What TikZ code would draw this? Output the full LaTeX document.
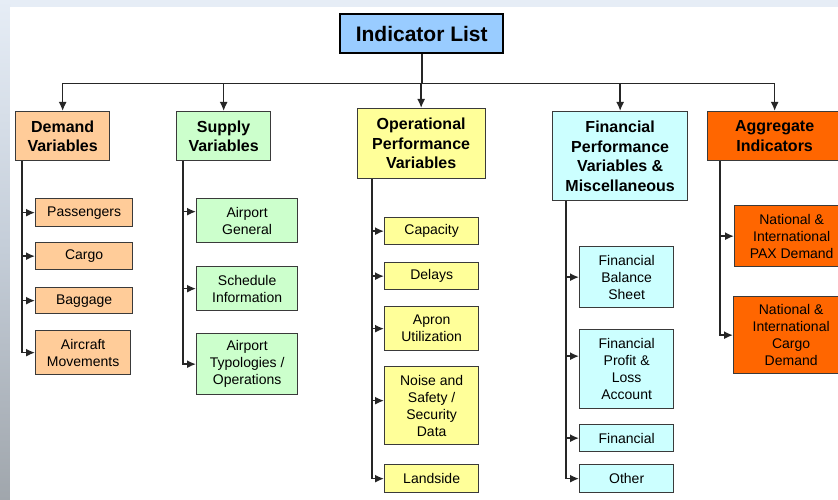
\documentclass[tikz,border=0pt]{standalone}
\usepackage{fontspec}
\setmainfont{Liberation Sans}
\usetikzlibrary{arrows.meta,positioning,calc}
\definecolor{cpeach}{HTML}{FFCC99}
\definecolor{cgreen}{HTML}{CCFFCC}
\definecolor{cyell}{HTML}{FFFF99}
\definecolor{ccyan}{HTML}{CCFFFF}
\definecolor{corange}{HTML}{FF6600}
\definecolor{cblue}{HTML}{99CCFF}
\definecolor{cborder}{HTML}{3A3A3A}
\definecolor{bgtop}{HTML}{E6EDF6}
\definecolor{bgmid}{HTML}{C4CDD8}
\definecolor{bgbot}{HTML}{A0A6AC}
\begin{document}
\begin{tikzpicture}[x=1pt,y=-1pt,
  box/.style={draw=cborder, line width=1.3pt, inner sep=0pt, align=center, anchor=north west},
  head/.style={box, font=\fontsize{16}{19.5}\selectfont\bfseries},
  sub/.style={box, font=\fontsize{14}{17}\selectfont},
  conn/.style={line width=1.6pt, draw=black!85},
  arr/.style={conn, -{Latex[length=9pt,width=8pt]}},
]
\useasboundingbox (0,0) rectangle (838,500);
% background
\fill[bgtop] (0,0) rectangle (838,7);
\shade[top color=bgtop, bottom color=bgbot, middle color=bgmid] (0,0) rectangle (10,500);
\fill[white] (10,7) rectangle (838,500);

% top
\node[box, draw=black, line width=2.4pt, fill=cblue, minimum width=163, minimum height=39,
  font=\fontsize{21}{24}\selectfont\bfseries] (top) at (339,13) {Indicator List};

% headers
\node[head, fill=cpeach, minimum width=94, minimum height=49] (dem) at (15,111) {Demand\\Variables};
\node[head, fill=cgreen, minimum width=94, minimum height=49] (sup) at (176,111) {Supply\\Variables};
\node[head, fill=cyell, minimum width=128, minimum height=70] (ope) at (356.5,108) {Operational\\Performance\\Variables};
\node[head, fill=ccyan, minimum width=135, minimum height=89] (fin) at (552,111) {Financial\\Performance\\Variables \&\\Miscellaneous};
\node[head, fill=corange, minimum width=134, minimum height=49] (agg) at (707,111) {Aggregate\\Indicators};

% bus
\coordinate (bus) at ([yshift=-29pt]top.south);
\draw[conn] (top.south) -- (bus);
\draw[arr] (bus) -| (dem.north);
\draw[arr] (bus) -| (sup.north);
\draw[arr] (bus) -- (ope.north |- bus) -- (ope.north);
\draw[arr] (bus) -| (fin.north);
\draw[arr] (bus) -| (agg.north);

% demand subs
\node[sub, fill=cpeach, minimum width=97, minimum height=28] (p1) at (35,198) {Passengers};
\node[sub, fill=cpeach, minimum width=97, minimum height=27] (p2) at (35,242) {Cargo};
\node[sub, fill=cpeach, minimum width=97, minimum height=26] (p3) at (35,287) {Baggage};
\node[sub, fill=cpeach, minimum width=95, minimum height=44] (p4) at (35,330) {Aircraft\\Movements};
\coordinate (dsp) at ([xshift=7pt]dem.south west);
\draw[arr] (dsp) |- (p4.west);
\foreach \n in {p1,p2,p3} \draw[arr] (dsp |- \n.west) -- (\n.west);

% supply subs
\node[sub, fill=cgreen, minimum width=101, minimum height=44] (s1) at (196,198) {Airport\\General};
\node[sub, fill=cgreen, minimum width=101, minimum height=44] (s2) at (196,266) {Schedule\\Information};
\node[sub, fill=cgreen, minimum width=101, minimum height=61] (s3) at (196,333) {Airport\\Typologies /\\Operations};
\coordinate (ssp) at ([xshift=7pt]sup.south west);
\coordinate (s1a) at ([yshift=9pt]s1.west);
\draw[arr] (ssp) |- (s3.west);
\draw[arr] (ssp |- s1a) -- (s1a);
\draw[arr] (ssp |- s2.west) -- (s2.west);

% operational subs
\node[sub, fill=cyell, minimum width=94, minimum height=27] (o1) at (384,217) {Capacity};
\node[sub, fill=cyell, minimum width=94, minimum height=27] (o2) at (384,262) {Delays};
\node[sub, fill=cyell, minimum width=94, minimum height=44] (o3) at (384,306) {Apron\\Utilization};
\node[sub, fill=cyell, minimum width=94, minimum height=78] (o4) at (384,366) {Noise and\\Safety /\\Security\\Data};
\node[sub, fill=cyell, minimum width=94, minimum height=28] (o5) at (384,464) {Landside};
\coordinate (osp) at ([xshift=15.5pt]ope.south west);
\coordinate (o4a) at ([yshift=5pt]o4.west);
\draw[arr] (osp) |- (o5.west);
\foreach \n in {o1,o2,o3} \draw[arr] (osp |- \n.west) -- (\n.west);
\draw[arr] (osp |- o4a) -- (o4a);

% financial subs
\node[sub, fill=ccyan, minimum width=94, minimum height=61] (f1) at (579,246) {Financial\\Balance\\Sheet};
\node[sub, fill=ccyan, minimum width=94, minimum height=79] (f2) at (579,329) {Financial\\Profit \&\\Loss\\Account};
\node[sub, fill=ccyan, minimum width=94, minimum height=27] (f3) at (579,424) {Financial};
\node[sub, fill=ccyan, minimum width=94, minimum height=28] (f4) at (579,464) {Other};
\coordinate (fsp) at ([xshift=14pt]fin.south west);
\coordinate (f2a) at ([yshift=13pt]f2.west);
\draw[arr] (fsp) |- (f4.west);
\draw[arr] (fsp |- f1.west) -- (f1.west);
\draw[arr] (fsp |- f2a) -- (f2a);
\draw[arr] (fsp |- f3.west) -- (f3.west);

% aggregate subs
\node[sub, fill=corange, minimum width=114, minimum height=61] (a1) at (734,205) {National \&\\International\\PAX Demand};
\node[sub, fill=corange, minimum width=115, minimum height=77] (a2) at (733,296) {National \&\\International\\Cargo\\Demand};
\coordinate (asp) at ([xshift=13pt]agg.south west);
\draw[arr] (asp) |- (a2.west);
\draw[arr] (asp |- a1.west) -- (a1.west);
\end{tikzpicture}
\end{document}
